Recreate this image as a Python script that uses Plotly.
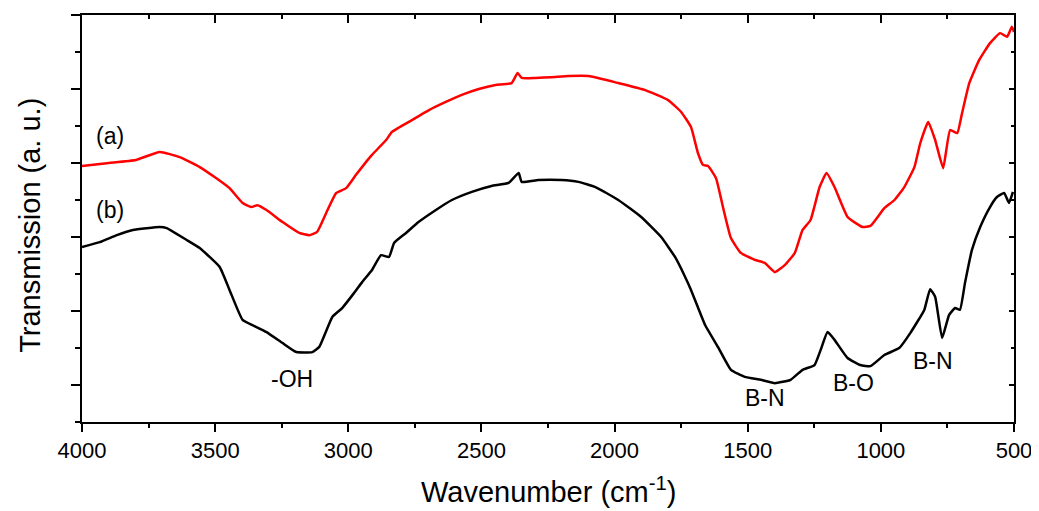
import plotly.graph_objects as go

# Spectrum (a) - red
wn_a = [4000, 3899, 3798, 3708, 3633, 3558, 3502, 3446, 3397, 3364, 3341, 3307, 3248, 3184, 3147, 3117,
        3083, 3045, 3008, 2971, 2933, 2911, 2858, 2836, 2761, 2697, 2634, 2574, 2510, 2447, 2387, 2364,
        2349, 2297, 2237, 2173, 2098, 1986, 1885, 1799, 1750, 1713, 1687, 1668, 1649, 1619, 1593, 1563,
        1526, 1473, 1436, 1398, 1361, 1323, 1294, 1264, 1230, 1204, 1174, 1125, 1069, 1039, 987, 949,
        912, 874, 852, 822, 796, 766, 740, 713, 695, 668, 631, 590, 552, 526, 508, 500]
t_a = [6.92, 7.00, 7.08, 7.30, 7.16, 6.89, 6.62, 6.32, 5.92, 5.81, 5.86, 5.73, 5.41, 5.11, 5.05, 5.14,
       5.65, 6.19, 6.32, 6.68, 7.03, 7.22, 7.62, 7.84, 8.16, 8.43, 8.65, 8.84, 9.00, 9.11, 9.16, 9.43,
       9.30, 9.30, 9.32, 9.35, 9.35, 9.16, 8.97, 8.70, 8.38, 7.97, 7.27, 6.95, 6.92, 6.59, 5.81, 4.97,
       4.57, 4.38, 4.30, 4.05, 4.24, 4.57, 5.19, 5.46, 6.35, 6.73, 6.35, 5.54, 5.27, 5.30, 5.78, 6.00,
       6.35, 6.89, 7.54, 8.11, 7.62, 6.86, 7.89, 7.81, 8.35, 9.16, 9.78, 10.24, 10.51, 10.41, 10.68, 10.54]

# Spectrum (b) - black
wn_b = [4000, 3933, 3869, 3809, 3708, 3682, 3607, 3558, 3483, 3446, 3397, 3360, 3307, 3248, 3195, 3135,
        3109, 3060, 3023, 2978, 2948, 2911, 2877, 2847, 2828, 2783, 2735, 2671, 2611, 2536, 2462, 2398,
        2360, 2349, 2286, 2200, 2136, 2072, 1986, 1900, 1825, 1773, 1735, 1713, 1660, 1612, 1563, 1511,
        1451, 1398, 1339, 1294, 1249, 1226, 1200, 1174, 1125, 1077, 1039, 987, 931, 889, 837, 815,
        796, 770, 744, 721, 703, 684, 658, 627, 590, 564, 537, 519, 504]
t_b = [4.73, 4.86, 5.05, 5.19, 5.27, 5.24, 4.92, 4.70, 4.19, 3.57, 2.76, 2.62, 2.43, 2.14, 1.89, 1.89,
       2.03, 2.84, 3.08, 3.49, 3.78, 4.11, 4.51, 4.46, 4.84, 5.11, 5.41, 5.73, 6.00, 6.22, 6.38, 6.46,
       6.73, 6.49, 6.54, 6.54, 6.49, 6.35, 6.00, 5.54, 5.00, 4.46, 3.92, 3.57, 2.62, 2.03, 1.41, 1.22,
       1.14, 1.05, 1.14, 1.41, 1.54, 1.95, 2.43, 2.22, 1.73, 1.54, 1.51, 1.81, 2.00, 2.41, 3.03, 3.59,
       3.38, 2.27, 2.89, 3.08, 3.03, 3.76, 4.65, 5.27, 5.81, 6.08, 6.19, 5.92, 6.22]

# Text labels
label_text = ["(a)", "(b)", "-OH", "B-N", "B-O", "B-N"]
label_wn = [3895, 3895, 3210, 1436, 1103, 803]
label_t = [7.73, 5.73, 1.16, 0.65, 1.05, 1.65]

x_ticks = [4000, 3500, 3000, 2500, 2000, 1500, 1000, 500]

FONT = "Liberation Sans, Arial, sans-serif"

fig = go.Figure()
fig.add_trace(go.Scatter(x=wn_a, y=t_a, mode="lines", line=dict(color="#ff0000", width=2.5, shape="spline", smoothing=0.4),
                         showlegend=False, hoverinfo="skip"))
fig.add_trace(go.Scatter(x=wn_b, y=t_b, mode="lines", line=dict(color="#000000", width=2.5, shape="spline", smoothing=0.4),
                         showlegend=False, hoverinfo="skip"))
# dummy trace to activate mirrored axes
fig.add_trace(go.Scatter(x=[None], y=[None], xaxis="x2", yaxis="y2", showlegend=False, hoverinfo="skip"))

for txt, xv, yv in zip(label_text, label_wn, label_t):
    fig.add_annotation(x=xv, y=yv, text=txt, showarrow=False, font=dict(family=FONT, size=23, color="black"),
                       xanchor="center", yanchor="middle")

fig.add_annotation(xref="paper", yref="paper", x=0.5, y=-0.167, text="Wavenumber (cm<sup>-1</sup>)",
                   showarrow=False, font=dict(family=FONT, size=29, color="black"), xanchor="center", yanchor="middle")
fig.add_annotation(xref="paper", yref="paper", x=-0.056, y=0.484, text="Transmission (a. u.)", textangle=-90,
                   showarrow=False, font=dict(family=FONT, size=29, color="black"), xanchor="center", yanchor="middle")

axis_common = dict(showgrid=False, zeroline=False, showline=True, linecolor="black", linewidth=1.5)

# page body has an 8px margin, so the figure is sized/offset to compensate
fig.update_layout(
    width=1031, height=503,
    margin=dict(l=74, r=22, t=7, b=89),
    paper_bgcolor="white", plot_bgcolor="white",
    font=dict(family=FONT, color="black"),
    xaxis=dict(range=[4000, 500], tickmode="array", tickvals=x_ticks, ticks="outside", ticklen=8, tickwidth=1.5,
               tickcolor="black", tickfont=dict(family=FONT, size=22, color="black"),
               minor=dict(dtick=250, tick0=500, ticks="outside", ticklen=4, tickwidth=1.5, tickcolor="black"),
               **axis_common),
    yaxis=dict(range=[0, 11], tick0=1, dtick=2, ticks="outside", ticklen=9, tickwidth=1.5, tickcolor="black",
               showticklabels=False,
               minor=dict(dtick=1, tick0=0, ticks="outside", ticklen=5, tickwidth=1.5, tickcolor="black"),
               **axis_common),
    xaxis2=dict(range=[4000, 500], overlaying="x", side="top", anchor="y2", tickmode="array", tickvals=x_ticks,
                ticks="inside", ticklen=8, tickwidth=1.5, tickcolor="black", showticklabels=False,
                minor=dict(dtick=250, tick0=500, ticks="inside", ticklen=4, tickwidth=1.5, tickcolor="black"),
                **axis_common),
    yaxis2=dict(range=[0, 11], overlaying="y", side="right", anchor="x2", tick0=1, dtick=2, ticks="inside",
                ticklen=5, tickwidth=1.5, tickcolor="black", showticklabels=False,
                minor=dict(dtick=1, tick0=0, ticks="inside", ticklen=3, tickwidth=1.5, tickcolor="black"),
                **axis_common),
)

fig.write_html("out.html")
